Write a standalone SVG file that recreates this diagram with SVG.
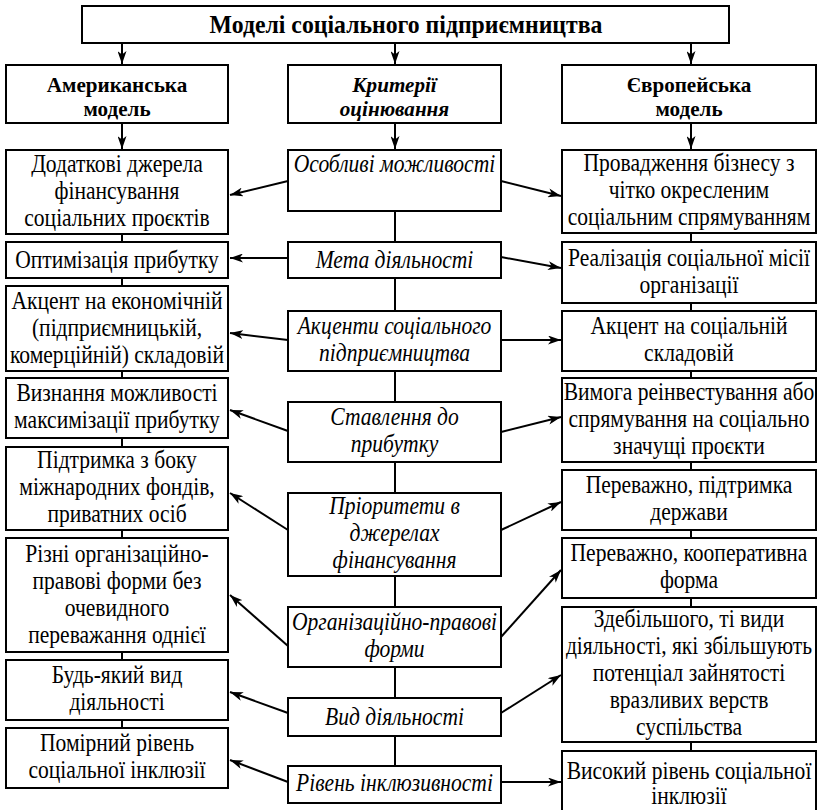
<svg xmlns="http://www.w3.org/2000/svg" width="818" height="810" viewBox="0 0 818 810">
<defs>
<style>
.box{fill:#fff;stroke:#000;stroke-width:2}
.t{font-family:"Liberation Serif","Times New Roman",serif;font-size:24.5px;text-anchor:middle;fill:#000}
.i{font-style:italic}
.b{font-weight:bold;font-size:22px}
.tt{font-weight:bold;font-size:24.5px}
.c{stroke:#000;stroke-width:2;fill:none}
.a{marker-end:url(#ah)}
</style>
<marker id="ah" viewBox="0 0 13 9" refX="13" refY="4.5" markerWidth="13" markerHeight="9" markerUnits="userSpaceOnUse" orient="auto">
<path d="M0,0 L13,4.5 L0,9 L3.5,4.5 z" fill="#000"/>
</marker>
</defs>
<rect width="818" height="810" fill="#fff"/>
<g id="connectors">
<line class="c a" x1="122" y1="43" x2="122" y2="64"/>
<line class="c a" x1="395" y1="43" x2="395" y2="64"/>
<line class="c a" x1="691" y1="43" x2="691" y2="64"/>
<line class="c a" x1="122" y1="123" x2="122" y2="149"/>
<line class="c a" x1="395" y1="123" x2="395" y2="149"/>
<line class="c a" x1="691" y1="123" x2="691" y2="149"/>
<path class="c" d="M122,234V242M122,278V286M122,371V378M122,438V447M122,530V538M122,652V660M122,720V728"/>
<path class="c" d="M395,211V242M395,278V311M395,371V402M395,462V493M395,576V607M395,667V698M395,736V766"/>
<path class="c" d="M691,233V242M691,303V311M691,371V378M691,462V470M691,530V538M691,598V607M691,742V751"/>
<line class="c a" x1="288" y1="181" x2="230" y2="195"/>
<line class="c a" x1="288" y1="258" x2="230" y2="258"/>
<line class="c a" x1="288" y1="340" x2="230" y2="333"/>
<line class="c a" x1="288" y1="431" x2="230" y2="410"/>
<line class="c a" x1="288" y1="530" x2="230" y2="493"/>
<line class="c a" x1="288" y1="646" x2="230" y2="595"/>
<line class="c a" x1="288" y1="713" x2="230" y2="692"/>
<line class="c a" x1="288" y1="782" x2="230" y2="760"/>
<line class="c a" x1="501" y1="181" x2="561" y2="196"/>
<line class="c a" x1="501" y1="257" x2="561" y2="268"/>
<line class="c a" x1="501" y1="340" x2="561" y2="340"/>
<line class="c a" x1="501" y1="432" x2="561" y2="417"/>
<line class="c a" x1="501" y1="530" x2="561" y2="502"/>
<line class="c a" x1="501" y1="637" x2="561" y2="570"/>
<line class="c a" x1="501" y1="713" x2="561" y2="675"/>
<line class="c a" x1="501" y1="782" x2="561" y2="782"/>
</g>
<g id="title"><rect class="box" x="82" y="6" width="647" height="37"/><g transform="translate(406 0) scale(0.97 1)"><text class="t tt" x="0" y="33">Моделі соціального підприємництва</text></g></g>
<g id="american"><rect class="box" x="6" y="65" width="222" height="58"/><g transform="translate(117 0) scale(0.96 1)"><text class="t b" x="0" y="92">Американська</text><text class="t b" x="0" y="116">модель</text></g></g>
<g id="criteria"><rect class="box" x="288" y="65" width="213" height="58"/><g transform="translate(394.5 0) scale(0.96 1)"><text class="t b i" x="0" y="92">Критерії</text><text class="t b i" x="0" y="116">оцінювання</text></g></g>
<g id="european"><rect class="box" x="562" y="65" width="254" height="58"/><g transform="translate(689 0) scale(0.96 1)"><text class="t b" x="0" y="92">Європейська</text><text class="t b" x="0" y="116">модель</text></g></g>

<g id="l1"><rect class="box" x="6" y="150" width="222" height="84"/><g transform="translate(117 0) scale(0.88 1)"><text class="t" x="0" y="172">Додаткові джерела</text><text class="t" x="0" y="199">фінансування</text><text class="t" x="0" y="226">соціальних проєктів</text></g></g>
<g id="l2"><rect class="box" x="6" y="242" width="222" height="36"/><g transform="translate(117 0) scale(0.88 1)"><text class="t" x="0" y="268">Оптимізація прибутку</text></g></g>
<g id="l3"><rect class="box" x="6" y="286" width="222" height="85"/><g transform="translate(117 0) scale(0.88 1)"><text class="t" x="0" y="309">Акцент на економічній</text><text class="t" x="0" y="336">(підприємницькій,</text><text class="t" x="0" y="363">комерційній) складовій</text></g></g>
<g id="l4"><rect class="box" x="6" y="378" width="222" height="60"/><g transform="translate(117 0) scale(0.88 1)"><text class="t" x="0" y="401">Визнання можливості</text><text class="t" x="0" y="428">максимізації прибутку</text></g></g>
<g id="l5"><rect class="box" x="6" y="447" width="222" height="83"/><g transform="translate(117 0) scale(0.88 1)"><text class="t" x="0" y="468">Підтримка з боку</text><text class="t" x="0" y="495">міжнародних фондів,</text><text class="t" x="0" y="522">приватних осіб</text></g></g>
<g id="l6"><rect class="box" x="6" y="538" width="222" height="114"/><g transform="translate(117 0) scale(0.88 1)"><text class="t" x="0" y="562">Різні організаційно-</text><text class="t" x="0" y="589">правові форми без</text><text class="t" x="0" y="616">очевидного</text><text class="t" x="0" y="643">переважання однієї</text></g></g>
<g id="l7"><rect class="box" x="6" y="660" width="222" height="60"/><g transform="translate(117 0) scale(0.88 1)"><text class="t" x="0" y="683">Будь-який вид</text><text class="t" x="0" y="710">діяльності</text></g></g>
<g id="l8"><rect class="box" x="6" y="728" width="222" height="60"/><g transform="translate(117 0) scale(0.88 1)"><text class="t" x="0" y="751">Помірний рівень</text><text class="t" x="0" y="778">соціальної інклюзії</text></g></g>

<g id="m1"><rect class="box" x="288" y="150" width="213" height="61"/><g transform="translate(394.5 0) scale(0.88 1)"><text class="t i" x="0" y="172">Особливі можливості</text></g></g>
<g id="m2"><rect class="box" x="288" y="242" width="213" height="36"/><g transform="translate(394.5 0) scale(0.88 1)"><text class="t i" x="0" y="268">Мета діяльності</text></g></g>
<g id="m3"><rect class="box" x="288" y="311" width="213" height="60"/><g transform="translate(394.5 0) scale(0.88 1)"><text class="t i" x="0" y="334">Акценти соціального</text><text class="t i" x="0" y="361">підприємництва</text></g></g>
<g id="m4"><rect class="box" x="288" y="402" width="213" height="60"/><g transform="translate(394.5 0) scale(0.88 1)"><text class="t i" x="0" y="425">Ставлення до</text><text class="t i" x="0" y="452">прибутку</text></g></g>
<g id="m5"><rect class="box" x="288" y="493" width="213" height="83"/><g transform="translate(394.5 0) scale(0.88 1)"><text class="t i" x="0" y="514">Пріоритети в</text><text class="t i" x="0" y="541">джерелах</text><text class="t i" x="0" y="568">фінансування</text></g></g>
<g id="m6"><rect class="box" x="288" y="607" width="213" height="60"/><g transform="translate(394.5 0) scale(0.88 1)"><text class="t i" x="0" y="630">Організаційно-правові</text><text class="t i" x="0" y="657">форми</text></g></g>
<g id="m7"><rect class="box" x="288" y="698" width="213" height="38"/><g transform="translate(394.5 0) scale(0.88 1)"><text class="t i" x="0" y="725">Вид діяльності</text></g></g>
<g id="m8"><rect class="box" x="288" y="766" width="213" height="37"/><g transform="translate(394.5 0) scale(0.88 1)"><text class="t i" x="0" y="791">Рівень інклюзивності</text></g></g>

<g id="r1"><rect class="box" x="562" y="150" width="254" height="83"/><g transform="translate(689 0) scale(0.88 1)"><text class="t" x="0" y="171">Провадження бізнесу з</text><text class="t" x="0" y="198">чітко окресленим</text><text class="t" x="0" y="225">соціальним спрямуванням</text></g></g>
<g id="r2"><rect class="box" x="562" y="242" width="254" height="61"/><g transform="translate(689 0) scale(0.88 1)"><text class="t" x="0" y="266">Реалізація соціальної місії</text><text class="t" x="0" y="293">організації</text></g></g>
<g id="r3"><rect class="box" x="562" y="311" width="254" height="60"/><g transform="translate(689 0) scale(0.88 1)"><text class="t" x="0" y="334">Акцент на соціальній</text><text class="t" x="0" y="361">складовій</text></g></g>
<g id="r4"><rect class="box" x="562" y="378" width="254" height="84"/><g transform="translate(689 0) scale(0.88 1)"><text class="t" x="0" y="400">Вимога реінвестування або</text><text class="t" x="0" y="427">спрямування на соціально</text><text class="t" x="0" y="454">значущі проєкти</text></g></g>
<g id="r5"><rect class="box" x="562" y="470" width="254" height="60"/><g transform="translate(689 0) scale(0.88 1)"><text class="t" x="0" y="493">Переважно, підтримка</text><text class="t" x="0" y="520">держави</text></g></g>
<g id="r6"><rect class="box" x="562" y="538" width="254" height="60"/><g transform="translate(689 0) scale(0.88 1)"><text class="t" x="0" y="561">Переважно, кооперативна</text><text class="t" x="0" y="588">форма</text></g></g>
<g id="r7"><rect class="box" x="562" y="607" width="254" height="135"/><g transform="translate(689 0) scale(0.88 1)"><text class="t" x="0" y="627">Здебільшого, ті види</text><text class="t" x="0" y="654">діяльності, які збільшують</text><text class="t" x="0" y="681">потенціал зайнятості</text><text class="t" x="0" y="708">вразливих верств</text><text class="t" x="0" y="735">суспільства</text></g></g>
<g id="r8"><rect class="box" x="562" y="751" width="254" height="62"/><g transform="translate(689 0) scale(0.88 1)"><text class="t" x="0" y="779">Високий рівень соціальної</text><text class="t" x="0" y="804">інклюзії</text></g></g>
</svg>
